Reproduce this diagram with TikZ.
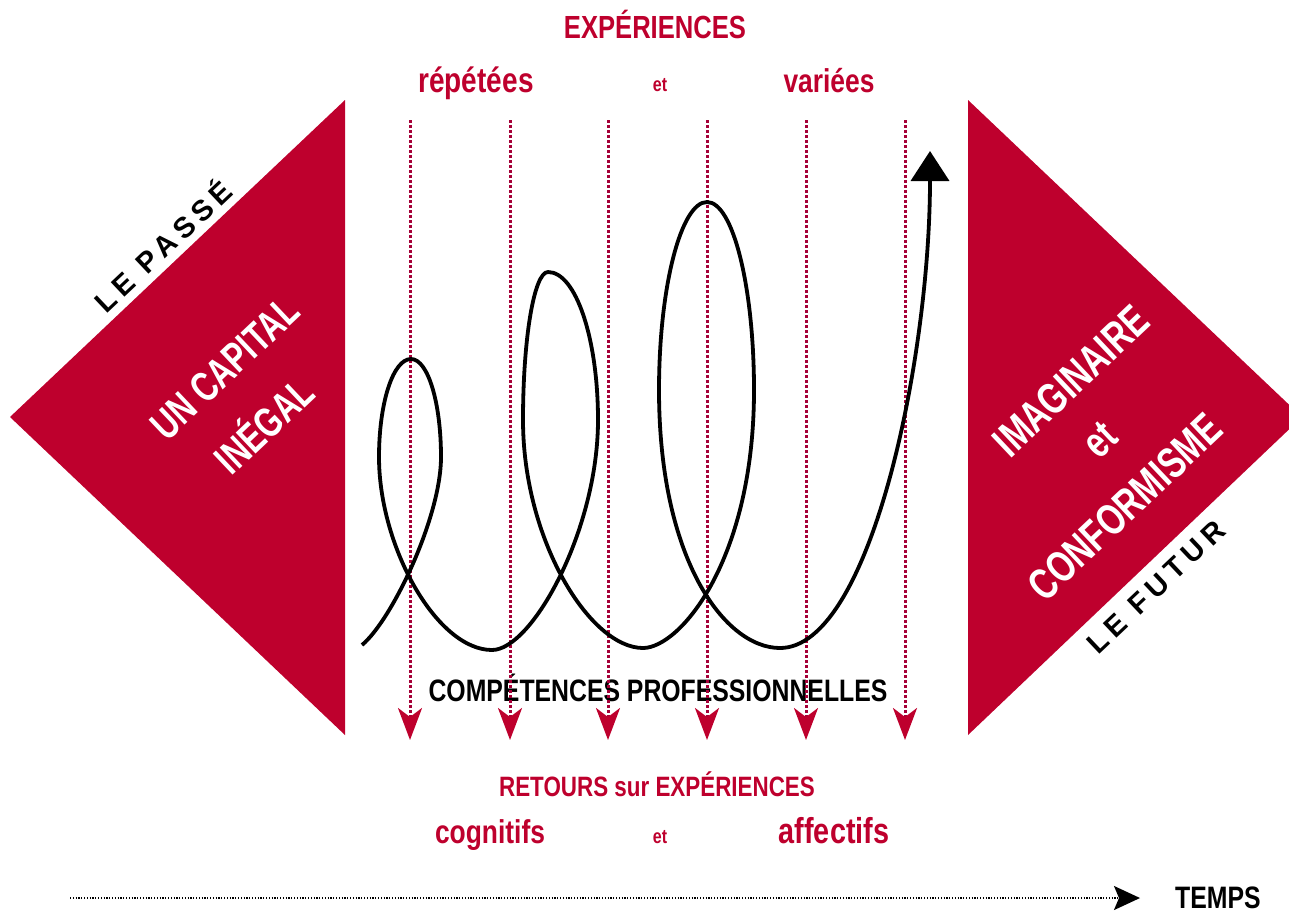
\documentclass[tikz,border=0pt]{standalone}
\usepackage{fontspec}
\setmainfont{Liberation Sans}
\newfontfamily\condfont[FakeStretch=0.8]{Liberation Sans}
\newfontfamily\narrowfont[FakeStretch=0.74]{Liberation Sans}
\newfontfamily\spacedfont[LetterSpace=20]{Liberation Sans}
\usetikzlibrary{arrows.meta, positioning}
\definecolor{crimson}{RGB}{190,0,45}
\definecolor{dotred}{RGB}{165,0,55}

\begin{document}
\begin{tikzpicture}[x=1pt, y=-1pt,
    txt/.style={font=\condfont\bfseries\fontsize{#1}{#1}\selectfont, inner sep=0pt, anchor=base},
    slant/.style={font=\narrowfont\bfseries\fontsize{#1}{#1}\selectfont, inner sep=0pt,
        text=white, rotate=43.4},
    spaced/.style={font=\spacedfont\bfseries\fontsize{29}{29}\selectfont, inner sep=0pt, rotate=43.4},
    dotarrow/.style={dotred, line width=3pt, dash pattern=on 2.6pt off 2.4pt,
        -{Stealth[length=32pt, width=24pt, inset=9pt, color=crimson]}},
    spiral/.style={line width=3.8pt, -{Triangle[width=38pt, length=30pt]}},
    timeline/.style={black, line width=2pt, dash pattern=on 1.2pt off 1.6pt,
        -{Stealth[length=26pt, width=24pt, inset=5pt]}, shorten >=35pt}
]
    \clip (0,0) rectangle (1289,914);

    % the two red triangles
    \fill[crimson] (10,417) -- (345,100) -- (345,735) -- cycle;
    \fill[crimson] (968,100) -- (1302,417) -- (968,735) -- cycle;

    % texts above
    \node[txt=32, text=crimson] (exp) at (655,38) {EXPÉRIENCES};
    \node[txt=35, text=crimson] (repetees) at (476,92) {répétées};
    \node[txt=20, text=crimson] (et1) at (660,91) {et};
    \node[txt=33, text=crimson] (variees) at (829,92) {variées};

    % texts in and along the triangles
    \node[spaced] (passe) at (162,245) {LE PASSÉ};
    \node[slant=42] (capital) at (225,368) {UN CAPITAL};
    \node[slant=42] (inegal) at (262,423) {INÉGAL};
    \node[slant=44] (imaginaire) at (1071,381) {IMAGINAIRE};
    \node[slant=44] (et3) at (1100,440) {et};
    \node[slant=44] (conformisme) at (1125,507) {CONFORMISME};
    \node[spaced] (futur) at (1156,587) {LE FUTUR};

    % texts below
    \node[txt=31] (competences) at (658,701) {COMPÉTENCES PROFESSIONNELLES};
    \node[txt=28, text=crimson] (retours) at (657,796) {RETOURS sur EXPÉRIENCES};
    \node[txt=33, text=crimson] (cognitifs) at (490,843) {cognitifs};
    \node[txt=20, text=crimson] (et2) at (660,843) {et};
    \node[txt=36, text=crimson] (affectifs) at (834,843) {affectifs};
    \node[txt=31, anchor=base west] (temps) at (1175,908) {TEMPS};

    % dotted feedback arrows
    \foreach \x [count=\i] in {410,510,608,707,806,905} {
        \coordinate (top\i) at (\x,120);
        \coordinate (bot\i) at (\x,740);
        \draw[dotarrow] (top\i) -- (bot\i);
    }

    % the spiral of experiences
    \draw[spiral] (362,645) .. controls (392,620) and (441,517) .. (441,457)
        .. controls (441,403) and (428,359) .. (411,359)
        .. controls (393,359) and (379,403) .. (379,457)
        .. controls (379,547) and (437,650) .. (492,650)
        .. controls (532,650) and (598,530) .. (598,420)
        .. controls (598,339) and (576,272) .. (548,272)
        .. controls (534,272) and (523,339) .. (523,420)
        .. controls (523,540) and (590,648) .. (643,648)
        .. controls (680,648) and (754,560) .. (754,390)
        .. controls (754,287) and (733,202) .. (707,202)
        .. controls (681,202) and (659,287) .. (659,390)
        .. controls (659,560) and (725,648) .. (780,648)
        .. controls (870,648) and (930,360) .. (930,151);

    % time axis
    \coordinate (t0) at (70,898);
    \draw[timeline] (t0) -- (temps.west |- t0);
\end{tikzpicture}
\end{document}
